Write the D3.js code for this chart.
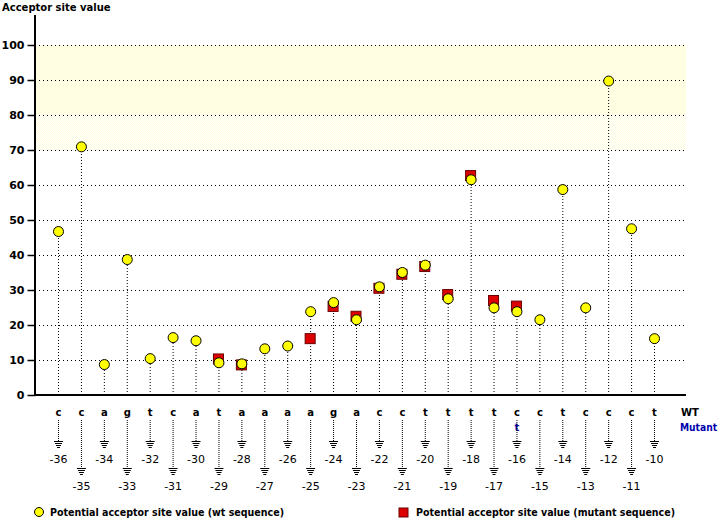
<!DOCTYPE html>
<html><head><meta charset="utf-8">
<script src="https://cdn.jsdelivr.net/npm/d3@7"></script>
<style>body{margin:0;background:#fff}svg{display:block}</style>
</head><body>
<svg id="c" width="720" height="520"></svg>
<script>
const positions = [-36,-35,-34,-33,-32,-31,-30,-29,-28,-27,-26,-25,-24,-23,-22,-21,-20,-19,-18,-17,-16,-15,-14,-13,-12,-11,-10];
const wtBases = ["c","c","a","g","t","c","a","t","a","a","a","a","g","a","c","c","t","t","t","t","c","c","t","c","c","c","t"];
const mutantBases = ["","","","","","","","","","","","","","","","","","","","","t","","","","","",""];
const wtValues = [46.7,70.9,8.7,38.7,10.4,16.4,15.5,9.2,8.9,13.2,14.0,23.8,26.4,21.5,30.9,35.0,37.1,27.5,61.5,24.9,23.8,21.5,58.7,24.9,89.7,47.5,16.1];
const mutValues = [null,null,null,null,null,null,null,10.3,8.6,null,null,16.1,25.3,22.5,30.5,34.5,36.7,28.7,62.7,27.0,25.4,null,null,null,null,null,null];
const yTicks = [0,10,20,30,40,50,60,70,80,90,100];

const svg = d3.select("#c");
const x = d3.scaleLinear().domain([-36,-10]).range([58,654]);
const y = d3.scaleLinear().domain([0,100]).range([395,45]);
const X0 = 35, X1 = 686;
const bold = "'DejaVu Sans', Verdana, sans-serif";

// background bands
const defs = svg.append("defs");
const pat = defs.append("pattern").attr("id","dith").attr("width",2).attr("height",2).attr("patternUnits","userSpaceOnUse");
pat.append("rect").attr("width",2).attr("height",2).attr("fill","#ffffff");
pat.append("rect").attr("width",1).attr("height",1).attr("fill","#fffde0");
pat.append("rect").attr("x",1).attr("y",1).attr("width",1).attr("height",1).attr("fill","#fffde0");
svg.append("rect").attr("x",X0+1).attr("y",y(100)).attr("width",X1-X0-1).attr("height",y(80)-y(100)).attr("fill","#fffde2");
svg.append("rect").attr("x",X0+1).attr("y",y(80)).attr("width",X1-X0-1).attr("height",y(70)-y(80)).attr("fill","url(#dith)");

// gridlines
svg.append("g").selectAll("line").data(yTicks.filter(d=>d>0)).join("line")
  .attr("x1",X0).attr("x2",X1).attr("y1",d=>y(d)+0.5).attr("y2",d=>y(d)+0.5)
  .attr("stroke","#000").attr("stroke-width",1).attr("stroke-dasharray","1,3");

// y axis
const yAxis = d3.axisLeft(y).tickValues(yTicks).tickSize(8).tickPadding(3);
const ga = svg.append("g").attr("transform",`translate(${X0+0.5},0)`).call(yAxis);
ga.select(".domain").remove();
ga.selectAll(".tick line").attr("stroke","#000").attr("stroke-width",1.5);
ga.selectAll(".tick text").attr("font-family",bold).attr("font-weight","bold").attr("font-size",11).attr("fill","#000");
svg.append("line").attr("x1",X0).attr("x2",X0).attr("y1",15).attr("y2",y(0)).attr("stroke","#000").attr("stroke-width",2);
svg.append("line").attr("x1",X0).attr("x2",X1).attr("y1",y(0)).attr("y2",y(0)).attr("stroke","#000").attr("stroke-width",2);
svg.append("text").attr("x",2).attr("y",11).text("Acceptor site value")
  .attr("font-family",bold).attr("font-weight","bold").attr("font-size",10);

const data = positions.map((p,i)=>({p, wt:wtValues[i], mut:mutValues[i], b:wtBases[i], m:mutantBases[i], odd: i%2===1}));

// stems
svg.append("g").selectAll("line").data(data).join("line")
  .attr("x1",d=>x(d.p)+0.5).attr("x2",d=>x(d.p)+0.5)
  .attr("y1",y(0)).attr("y2",d=>y(Math.max(d.wt, d.mut||0)))
  .attr("stroke","#000").attr("stroke-dasharray","1,2");

// mutant squares
svg.append("g").selectAll("rect").data(data.filter(d=>d.mut!==null)).join("rect")
  .attr("x",d=>x(d.p)-5).attr("y",d=>y(d.mut)-5).attr("width",10).attr("height",10)
  .attr("fill","#dd0000").attr("stroke","#6a0000").attr("stroke-width",1);

// wt circles
svg.append("g").selectAll("circle").data(data).join("circle")
  .attr("cx",d=>x(d.p)+0.5).attr("cy",d=>y(d.wt)).attr("r",5)
  .attr("fill","#ffff00").attr("stroke","#000").attr("stroke-width",1);

// bottom labels
const gb = svg.append("g").selectAll("g").data(data).join("g")
  .attr("transform",d=>`translate(${x(d.p)+0.5},0)`);
gb.append("text").attr("y",416).attr("text-anchor","middle").text(d=>d.b)
  .attr("font-family",bold).attr("font-weight","bold").attr("font-size",10);
gb.filter(d=>d.m).append("text").attr("y",431).attr("text-anchor","middle").text(d=>d.m)
  .attr("font-family",bold).attr("font-weight","bold").attr("font-size",10).attr("fill","#0000b0");
gb.append("line").attr("x1",0).attr("x2",0).attr("y1",420).attr("y2",d=>d.odd?468:441)
  .attr("stroke","#000").attr("stroke-dasharray","1,1");
gb.each(function(d){
  const g = d3.select(this);
  const top = d.odd ? 468 : 441;
  [[4,0],[3,2],[2,4],[1,6]].forEach(([hw,dy])=>{
    g.append("line").attr("x1",-hw-0.5).attr("x2",hw+0.5).attr("y1",top+dy+0.5).attr("y2",top+dy+0.5)
      .attr("stroke","#000").attr("stroke-width",1);
  });
});
gb.append("text").attr("y",d=>d.odd?490:463).attr("text-anchor","middle").text(d=>String(d.p))
  .attr("font-family","'DejaVu Sans', sans-serif").attr("font-size",11);

svg.append("text").attr("x",681).attr("y",416).text("WT")
  .attr("font-family",bold).attr("font-weight","bold").attr("font-size",10);
svg.append("text").attr("x",680).attr("y",431).text("Mutant").attr("fill","#0000b0")
  .attr("textLength",37).attr("lengthAdjust","spacingAndGlyphs")
  .attr("font-family",bold).attr("font-weight","bold").attr("font-size",10);

// legend
svg.append("circle").attr("cx",39).attr("cy",512).attr("r",4.5).attr("fill","#ffff00").attr("stroke","#000");
svg.append("text").attr("x",50).attr("y",516).text("Potential acceptor site value (wt sequence)")
  .attr("textLength",234).attr("lengthAdjust","spacingAndGlyphs")
  .attr("font-family",bold).attr("font-weight","bold").attr("font-size",10);
svg.append("rect").attr("x",399).attr("y",508).attr("width",9).attr("height",9).attr("fill","#dd0000").attr("stroke","#6a0000");
svg.append("text").attr("x",416).attr("y",516).text("Potential acceptor site value (mutant sequence)")
  .attr("textLength",259).attr("lengthAdjust","spacingAndGlyphs")
  .attr("font-family",bold).attr("font-weight","bold").attr("font-size",10);
</script>
</body></html>
